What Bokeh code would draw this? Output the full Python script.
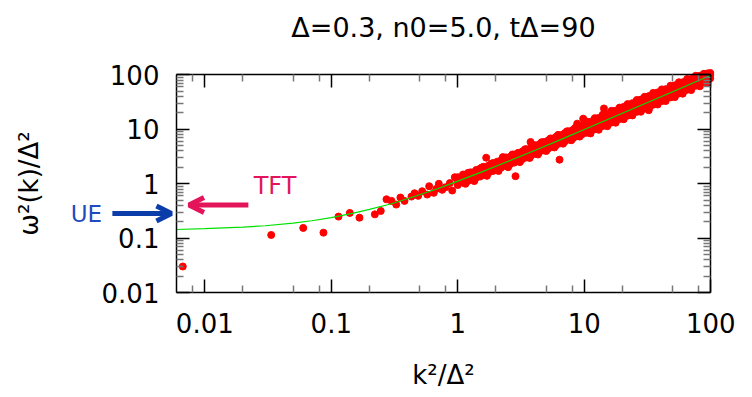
from bokeh.plotting import figure
from bokeh.models import (FixedTicker, LogAxis, Label, Arrow, OpenHead,
                          CustomJSTickFormatter, ColumnDataSource)
from bokeh.embed import file_html
from bokeh.resources import INLINE

title_text = "Δ=0.3, n0=5.0, tΔ=90"
x_label = "k²/Δ²"
y_label = "ω²(k)/Δ²"
major_ticks = [0.01, 0.1, 1, 10, 100]

# sparse points at small k
low_x = [0.0067, 0.0335, 0.060, 0.0867, 0.114, 0.140, 0.167, 0.221, 0.246, 0.273,
         0.299, 0.326, 0.352, 0.379, 0.430, 0.455, 0.486, 0.523, 0.573, 0.594,
         0.646, 0.679, 0.708, 0.753, 0.800, 0.865, 0.903, 0.947, 1.02, 1.10, 1.15]
low_y = [0.0304, 0.115, 0.155, 0.127, 0.25, 0.292, 0.239, 0.275, 0.318, 0.520,
         0.486, 0.416, 0.560, 0.486, 0.583, 0.671, 0.601, 0.731, 0.635, 0.903,
         0.683, 0.809, 1.0, 0.776, 0.865, 1.03, 0.753, 1.32, 1.07, 1.48, 1.0]

# dense band
band_x = [1.0, 1.1, 1.2, 1.3, 1.4, 1.5, 1.6, 1.75, 1.9, 2.05, 2.2, 2.4, 2.6, 2.8, 3.0,
          3.25, 3.5, 3.8, 4.1, 4.4, 4.8, 5.2, 5.6, 6.0, 6.5, 7.0, 7.6, 8.2, 8.9, 9.6,
          10.4, 11.2, 12.1, 13, 14, 15.2, 16.4, 17.7, 19, 20.5, 22, 24, 26, 28, 30,
          32.5, 35, 38, 41, 44, 48, 52, 56, 60, 65, 70, 76, 82, 88, 94, 99]
band_up = [1.32, 1.40, 1.58, 1.62, 1.80, 1.90, 2.05, 2.15, 2.40, 2.55, 2.70, 3.05, 3.15,
           3.45, 3.70, 3.95, 4.30, 4.60, 5.05, 5.30, 5.85, 6.30, 6.75, 7.30, 7.80, 8.50,
           9.20, 9.90, 10.8, 11.6, 12.8, 13.8, 15.0, 16.2, 17.4, 19.0, 20.6, 22.0, 23.8,
           25.8, 27.5, 30.2, 32.5, 35.2, 37.5, 40.8, 43.5, 47.5, 51, 54.5, 59, 64, 68, 73,
           78, 84, 90, 96, 102, 106, 108]
band_mid = [1.15, 1.20, 1.36, 1.40, 1.58, 1.60, 1.78, 1.85, 2.08, 2.15, 2.40, 2.50, 2.80,
            2.90, 3.25, 3.35, 3.75, 3.90, 4.35, 4.50, 5.10, 5.30, 5.90, 6.10, 6.85, 7.10,
            8.00, 8.30, 9.30, 9.70, 10.9, 11.3, 12.7, 13.1, 14.6, 15.3, 17.1, 17.8, 19.8,
            20.6, 22.9, 24.1, 27.0, 28.1, 31.2, 32.6, 36.4, 38.1, 42.6, 44.1, 49.8, 52.1,
            58, 60.1, 67, 70.1, 78, 82.1, 90, 94.2, 99.5]
band_lo = [0.95, 1.05, 1.12, 1.20, 1.30, 1.36, 1.45, 1.60, 1.72, 1.82, 1.98, 2.12, 2.30,
           2.45, 2.62, 2.85, 3.05, 3.30, 3.55, 3.80, 4.10, 4.45, 4.80, 5.10, 5.55, 5.95,
           6.45, 6.95, 7.50, 8.10, 8.60, 9.30, 10.0, 10.7, 11.5, 12.4, 13.3, 14.4, 15.4,
           16.5, 17.8, 19.3, 20.9, 22.5, 24.0, 26.0, 28.2, 30.5, 33, 35.5, 38.5, 42, 45.5,
           49, 53, 57.5, 63, 68, 74, 80, 86]

# ragged edges of the band
edge_up_x = [1.25, 1.55, 1.85, 2.3, 2.7, 3.4, 4.0, 4.6, 5.4, 6.2, 7.3, 8.5,
             10.4, 12.1, 14, 16.4, 19, 22, 26, 30, 35, 41, 48, 56, 65, 76, 88]
edge_up_y = [1.62, 2.0, 2.35, 2.95, 3.45, 4.3, 5.1, 5.8, 6.8, 7.9, 9.2, 10.7,
             13.9, 16.0, 18.6, 21.8, 25.0, 29.0, 34.5, 39.5, 46.5, 54, 63, 73, 84, 96, 104]
edge_lo_x = [1.35, 1.7, 2.1, 2.5, 3.1, 3.7, 4.3, 5.0, 5.8, 6.8, 7.9, 9.2,
             11.2, 13, 15.2, 17.7, 20.5, 24, 28, 32.5, 38, 44, 52, 60, 70, 82, 94]
edge_lo_y = [1.12, 1.40, 1.72, 2.02, 2.50, 2.98, 3.45, 4.0, 4.65, 5.45, 6.3, 7.35,
             8.4, 9.8, 11.4, 13.2, 15.3, 18.0, 21.0, 24.4, 28.5, 33, 39, 45, 52.5, 61.5, 71]

# isolated outliers
out_x = [1.677, 2.27, 3.76, 2.86, 6.37, 8.79, 32.3, 14.3, 9.8]
out_y = [3.01, 3.09, 5.84, 1.38, 2.77, 12.7, 22.4, 24.1, 15.7]

# fitted curve (green)
fit_x = [0.006, 0.01, 0.02, 0.03, 0.05, 0.07, 0.1, 0.15, 0.2, 0.3, 0.5, 0.7, 1, 1.5,
         2, 3, 5, 7, 10, 20, 50, 100]
fit_y = [0.145, 0.15, 0.16, 0.17, 0.19, 0.21, 0.24, 0.29, 0.34, 0.43, 0.63, 0.82, 1.12,
         1.6, 2.1, 3.07, 5.0, 6.95, 9.9, 19.7, 49, 98]

pts = ColumnDataSource(dict(
    x=low_x + band_x + band_x + band_x + edge_up_x + edge_lo_x + out_x,
    y=low_y + band_up + band_mid + band_lo + edge_up_y + edge_lo_y + out_y,
))
fit = ColumnDataSource(dict(x=fit_x, y=fit_y))

# axes box limits
X0, X1 = 0.00597, 100
Y0, Y1 = 0.01, 100

FONT = "DejaVu Sans"
# the frame fills the whole canvas; the axes box is drawn with fixed-location axes
p = figure(width=752, height=397, x_axis_type="log", y_axis_type="log",
           x_range=(0.0002427, 213.6), y_range=(0.00012, 2308),
           output_backend="svg", toolbar_location=None, min_border=0,
           title=None)
p.background_fill_color = "white"
p.border_fill_color = "white"
p.outline_line_color = None
p.grid.visible = False

x_minor = [0.008, 0.02, 0.05, 0.08, 0.2, 0.5, 0.8, 2, 5, 8, 20, 50, 80]
y_minor = [m * 10.0 ** e for e in range(-2, 2) for m in range(2, 10)]
fmt = CustomJSTickFormatter(code="return tick.toString();")


def style_axis(ax, minor, labels=True):
    ax.ticker = FixedTicker(ticks=major_ticks, minor_ticks=minor)
    ax.formatter = fmt
    ax.axis_line_color = "black"
    ax.axis_line_width = 1.5
    ax.major_tick_in = 13
    ax.major_tick_out = 0
    ax.minor_tick_in = 7
    ax.minor_tick_out = 0
    ax.major_tick_line_color = "black"
    ax.major_tick_line_width = 1.5
    ax.minor_tick_line_color = "#777777"
    ax.minor_tick_line_width = 1.5
    if labels:
        ax.major_label_text_font = FONT
        ax.major_label_text_font_size = "26px"
        ax.major_label_text_color = "black"
        ax.axis_label_text_font = FONT
        ax.axis_label_text_font_size = "26px"
        ax.axis_label_text_font_style = "normal"
        ax.axis_label_text_color = "black"
    else:
        ax.major_label_text_color = None
        ax.major_label_standoff = 0


xa = p.xaxis[0]
ya = p.yaxis[0]
style_axis(xa, x_minor)
style_axis(ya, y_minor)
xa.fixed_location = Y0
xa.bounds = (X0, X1)
ya.fixed_location = X0
ya.bounds = (Y0, Y1)
xa.axis_label = x_label
ya.axis_label = y_label
xa.major_label_standoff = 20
xa.axis_label_standoff = 24
ya.major_label_standoff = 17
ya.axis_label_standoff = 55

top = LogAxis(fixed_location=Y1, bounds=(X0, X1))
right = LogAxis(fixed_location=X1, bounds=(Y0, Y1))
style_axis(top, x_minor, labels=False)
style_axis(right, y_minor, labels=False)
p.add_layout(top, "above")
p.add_layout(right, "right")

p.scatter("x", "y", source=pts, size=7, color="#ff0000", line_color="#ff0000")
p.line("x", "y", source=fit, line_color="#00e000", line_width=1.2)

blue = "#0a3caa"
pink = "#e3145a"
p.add_layout(Arrow(end=OpenHead(size=15, line_width=5, line_color=blue),
                   x_start=0.00186, y_start=0.284, x_end=0.00545, y_end=0.284,
                   line_color=blue, line_width=5))
p.add_layout(Arrow(end=OpenHead(size=15, line_width=5, line_color=pink),
                   x_start=0.0221, y_start=0.41, x_end=0.0075, y_end=0.41,
                   line_color=pink, line_width=5))
p.add_layout(Label(x=0.00116, y=0.275, text="UE", text_align="center",
                   text_baseline="alphabetic", text_color="#1f4bbf",
                   text_font=FONT, text_font_size="23px"))
p.add_layout(Label(x=0.0359, y=0.93, text="TFT", text_align="center",
                   text_baseline="alphabetic", text_color=pink,
                   text_font=FONT, text_font_size="24px"))
p.add_layout(Label(x=0.77, y=753, text=title_text, text_align="center",
                   text_baseline="alphabetic", text_color="black",
                   text_font=FONT, text_font_size="27px"))

open("out.html", "w").write(file_html(p, INLINE))
